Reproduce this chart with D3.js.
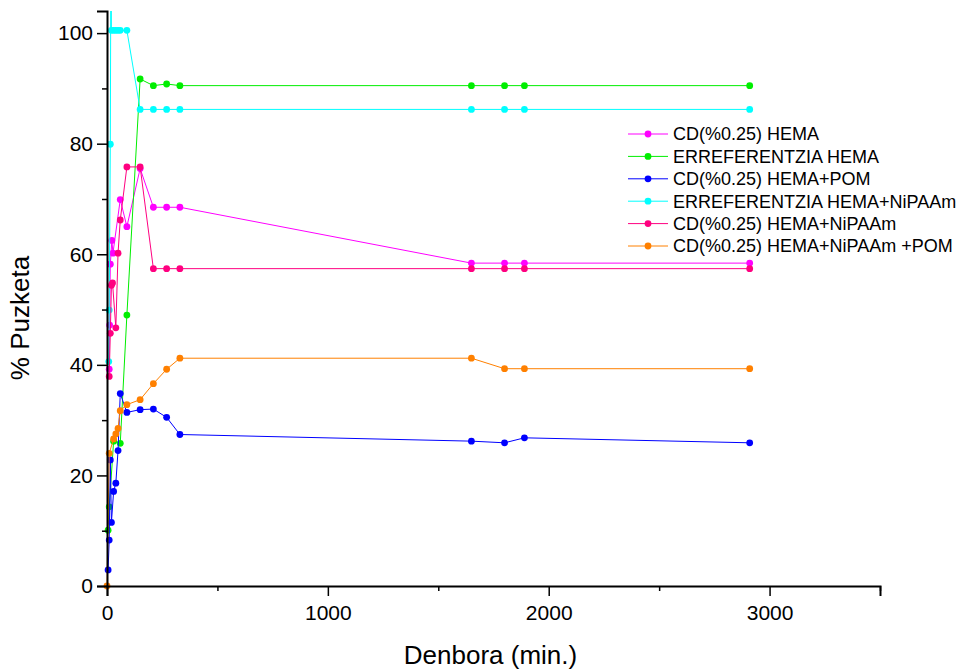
<!DOCTYPE html>
<html>
<head>
<meta charset="utf-8">
<script src="https://cdn.jsdelivr.net/npm/d3@7"></script>
<style>
  body { margin: 0; background: #fff; }
  text { font-family: "Liberation Sans", Arial, sans-serif; }
</style>
</head>
<body>
<div id="chart"></div>
<script>
// series: [minutes, % puzketa]
const cdHema = [[10, 39.2], [12, 47.2], [15, 58.2], [22, 62.5], [27, 60.2], [60, 69.9], [90, 65.0], [150, 75.5],
  [210, 68.5], [270, 68.5], [330, 68.5], [1650, 58.4], [1800, 58.4], [1890, 58.4], [2910, 58.4]];
const refHema = [[5, 10.1], [10, 14.3], [30, 26.2], [60, 25.8], [90, 49.0], [150, 91.7],
  [210, 90.5], [270, 90.8], [330, 90.5], [1650, 90.5], [1800, 90.5], [1890, 90.5], [2910, 90.5]];
const cdHemaPom = [[5, 2.9], [10, 8.3], [15, 22.8], [20, 11.5], [30, 17.1], [40, 18.6], [50, 24.5], [60, 34.8], [90, 31.4],
  [150, 31.9], [210, 32.0], [270, 30.5], [330, 27.4], [1650, 26.2], [1800, 25.9], [1890, 26.8], [2910, 25.9]];
const refHemaNipaam = [[8, 40.6], [10, 49.9], [15, 79.9], [18, 120], [20, 100.5], [30, 100.5], [40, 100.5], [50, 100.5],
  [60, 100.5], [90, 100.5], [150, 86.2], [210, 86.2], [270, 86.2], [330, 86.2], [1650, 86.2], [1800, 86.2], [1890, 86.2], [2910, 86.2]];
const cdHemaNipaam = [[10, 37.9], [15, 45.7], [20, 54.4], [25, 54.8], [40, 46.7], [50, 60.2], [60, 66.2], [90, 75.8],
  [150, 75.8], [210, 57.4], [270, 57.4], [330, 57.4], [1650, 57.4], [1800, 57.4], [1890, 57.4], [2910, 57.4]];
const cdHemaNipaamPom = [[0, 0], [10, 24.0], [30, 26.6], [40, 27.5], [50, 28.5], [60, 31.7], [90, 32.8], [150, 33.7],
  [210, 36.6], [270, 39.2], [330, 41.2], [1650, 41.2], [1800, 39.3], [1890, 39.3], [2910, 39.3]];

const seriesNames = ["CD(%0.25) HEMA", "ERREFERENTZIA HEMA", "CD(%0.25) HEMA+POM",
  "ERREFERENTZIA HEMA+NiPAAm", "CD(%0.25) HEMA+NiPAAm", "CD(%0.25) HEMA+NiPAAm +POM"];
const seriesColors = ["#ff00ff", "#00ee00", "#0000ff", "#00ffff", "#ff0080", "#ff8000"];
const seriesData = [cdHema, refHema, cdHemaPom, refHemaNipaam, cdHemaNipaam, cdHemaNipaamPom];

const xMajor = [0, 1000, 2000, 3000];
const xMinor = [500, 1500, 2500, 3500];
const yMajor = [0, 20, 40, 60, 80, 100];
const yMinor = [10, 30, 50, 70, 90];

const width = 957, height = 670;
const x = d3.scaleLinear().domain([0, 3500]).range([107, 880]);
const y = d3.scaleLinear().domain([0, 104]).range([586, 11]);

const svg = d3.select("#chart").append("svg")
  .attr("width", width).attr("height", height);

svg.append("defs").append("clipPath").attr("id", "plot-clip")
  .append("rect")
  .attr("x", x(0) - 6).attr("y", y(104))
  .attr("width", x(3500) - x(0) + 12).attr("height", y(0) - y(104) + 6);

// lines + markers
const plot = svg.append("g").attr("clip-path", "url(#plot-clip)");
const line = d3.line().x(d => x(d[0])).y(d => y(d[1]));
seriesData.forEach((data, i) => {
  plot.append("path")
    .datum(data)
    .attr("fill", "none")
    .attr("stroke", seriesColors[i])
    .attr("stroke-width", 1)
    .attr("d", line);
  plot.selectAll(".pt" + i)
    .data(data)
    .enter().append("circle")
    .attr("cx", d => x(d[0]))
    .attr("cy", d => y(d[1]))
    .attr("r", 3.4)
    .attr("fill", seriesColors[i]);
});

// axes
const xAxis = svg.append("g").attr("transform", "translate(0," + y(0) + ")")
  .call(d3.axisBottom(x).tickValues(xMajor).tickSize(10).tickPadding(9).tickFormat(d3.format("d")));
xAxis.append("g").call(d3.axisBottom(x).tickValues(xMinor).tickSize(5).tickFormat(""))
  .select(".domain").remove();
const yAxis = svg.append("g").attr("transform", "translate(" + x(0) + ",0)")
  .call(d3.axisLeft(y).tickValues(yMajor).tickSize(10).tickPadding(4).tickFormat(d3.format("d")));
yAxis.append("g").call(d3.axisLeft(y).tickValues(yMinor).tickSize(5).tickFormat(""))
  .select(".domain").remove();

svg.selectAll(".domain").attr("stroke", "#000").attr("stroke-width", 2);
svg.selectAll(".tick line").attr("stroke", "#000").attr("stroke-width", 1.5);
svg.selectAll(".tick text").attr("fill", "#000")
  .style("font-family", "'Liberation Sans', Arial, sans-serif").style("font-size", "21px");

// axis titles
svg.append("text")
  .attr("x", (x(0) + x(3500)) / 2 - 3)
  .attr("y", 664)
  .attr("text-anchor", "middle")
  .style("font-size", "26px")
  .text("Denbora (min.)");
svg.append("text")
  .attr("transform", "rotate(-90)")
  .attr("x", -318)
  .attr("y", 29)
  .attr("text-anchor", "middle")
  .style("font-size", "26px")
  .text("% Puzketa");

// legend
const legend = svg.append("g").attr("transform", "translate(628,134)");
seriesNames.forEach((name, i) => {
  const row = legend.append("g").attr("transform", "translate(0," + i * 22.4 + ")");
  row.append("line").attr("x1", 0).attr("x2", 40).attr("y1", 0).attr("y2", 0)
    .attr("stroke", seriesColors[i]).attr("stroke-width", 1);
  row.append("circle").attr("cx", 20).attr("cy", 0).attr("r", 3.4).attr("fill", seriesColors[i]);
  row.append("text").attr("x", 45).attr("y", 0).attr("dy", "0.35em")
    .style("font-size", "18px").text(name);
});
</script>
</body>
</html>
